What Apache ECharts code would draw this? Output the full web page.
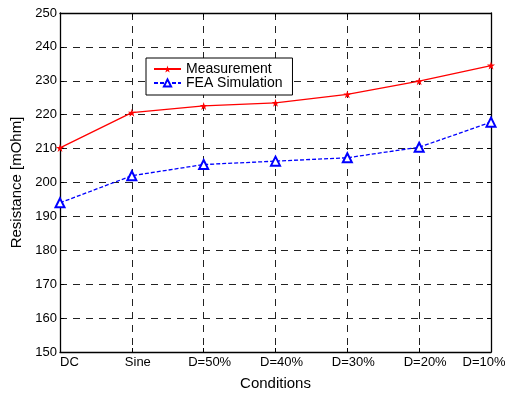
<!DOCTYPE html>
<html>
<head>
<meta charset="utf-8">
<script src="https://cdn.jsdelivr.net/npm/echarts@6/dist/echarts.min.js"></script>
<style>
  html, body { margin: 0; padding: 0; background: #fff; }
  #chart { width: 505px; height: 394px; }
</style>
</head>
<body>
<div id="chart"></div>
<script>
// Test conditions along the x axis
const conditions = ['DC', 'Sine', 'D=50%', 'D=40%', 'D=30%', 'D=20%', 'D=10%'];
// Resistance values in mOhm
const measurement = [210.2, 220.6, 222.6, 223.5, 226.0, 229.9, 234.5];
const feaSimulation = [194.0, 202.0, 205.3, 206.3, 207.3, 210.4, 217.8];
// Y axis range and step
const yMin = 150, yMax = 250, yStep = 10;

const font = '"Liberation Sans", Arial, sans-serif';
const starPath = 'path://M50,0 L61,35 L98,35 L68,57 L79,92 L50,70 L21,92 L32,57 L2,35 L39,35 Z';

const chart = echarts.init(document.getElementById('chart'), null, { renderer: 'canvas' });

const dash = { color: '#222', width: 1, type: [7, 6] };
const lastIdx = conditions.length - 1;

// Tick labels: first one starts at the axis, the others sit slightly right of their tick
function tickLabel(v, i) {
  if (i === 0) return v;
  if (i === lastIdx) return '{r|' + v + '}';
  return '{m|' + v + '}';
}

chart.setOption({
  animation: false,
  backgroundColor: '#fff',
  textStyle: { fontFamily: font },
  grid: { left: 60, right: 14, top: 13, bottom: 42, show: false, outerBoundsMode: 'none', containLabel: false },
  legend: {
    orient: 'vertical',
    left: 146, top: 58,
    backgroundColor: '#fff',
    borderColor: '#000', borderWidth: 1,
    padding: [4, 10, 5, 7],
    itemWidth: 27, itemHeight: 9, itemGap: 0,
    textStyle: { fontSize: 14, lineHeight: 14, color: '#000', fontFamily: font },
    data: ['Measurement', 'FEA Simulation']
  },
  xAxis: [{
    type: 'category',
    data: conditions,
    boundaryGap: false,
    name: 'Conditions',
    nameLocation: 'middle',
    nameGap: 24,
    nameTextStyle: { fontSize: 15, color: '#000', fontFamily: font },
    axisLine: { lineStyle: { color: '#000', width: 1.3 } },
    axisTick: { inside: true, length: 4, lineStyle: { color: '#000' } },
    axisLabel: {
      fontSize: 13, color: '#000', fontFamily: font, margin: 4,
      alignMinLabel: 'left',
      interval: 0,
      formatter: tickLabel,
      rich: {
        m: { fontSize: 13, color: '#000', fontFamily: font, padding: [0, 0, 0, 12] },
        r: { fontSize: 13, color: '#000', fontFamily: font, padding: [0, 14, 0, 0] }
      }
    },
    splitLine: { show: true, lineStyle: dash }
  }, {
    type: 'category',
    data: conditions,
    boundaryGap: false,
    position: 'top',
    axisLine: { lineStyle: { color: '#000', width: 1.3 } },
    axisTick: { inside: true, length: 4, lineStyle: { color: '#000' } },
    axisLabel: { show: false },
    splitLine: { show: false }
  }],
  yAxis: [{
    type: 'value',
    min: yMin, max: yMax, interval: yStep,
    name: 'Resistance [mOhm]',
    nameLocation: 'middle',
    nameGap: 33,
    nameTextStyle: { fontSize: 15, color: '#000', fontFamily: font },
    axisLine: { show: true, lineStyle: { color: '#000', width: 1.3 } },
    axisTick: { show: true, inside: true, length: 4, lineStyle: { color: '#000' } },
    axisLabel: { fontSize: 13, color: '#000', fontFamily: font, margin: 3 },
    splitLine: { show: true, lineStyle: dash }
  }, {
    type: 'value',
    min: yMin, max: yMax, interval: yStep,
    position: 'right',
    axisLine: { show: true, lineStyle: { color: '#000', width: 1.3 } },
    axisTick: { show: true, inside: true, length: 4, lineStyle: { color: '#000' } },
    axisLabel: { show: false },
    splitLine: { show: false }
  }],
  series: [{
    name: 'Measurement',
    type: 'line',
    data: measurement,
    symbol: starPath,
    symbolSize: 8,
    lineStyle: { color: '#ff0000', width: 1.3 },
    itemStyle: { color: '#ff0000' },
    z: 5
  }, {
    name: 'FEA Simulation',
    type: 'line',
    data: feaSimulation,
    symbol: 'emptyTriangle',
    symbolSize: 9,
    lineStyle: { color: '#0000ff', width: 1.3, type: [4, 2] },
    itemStyle: { color: '#0000ff', borderWidth: 1.3 },
    z: 5
  }]
});
</script>
</body>
</html>
